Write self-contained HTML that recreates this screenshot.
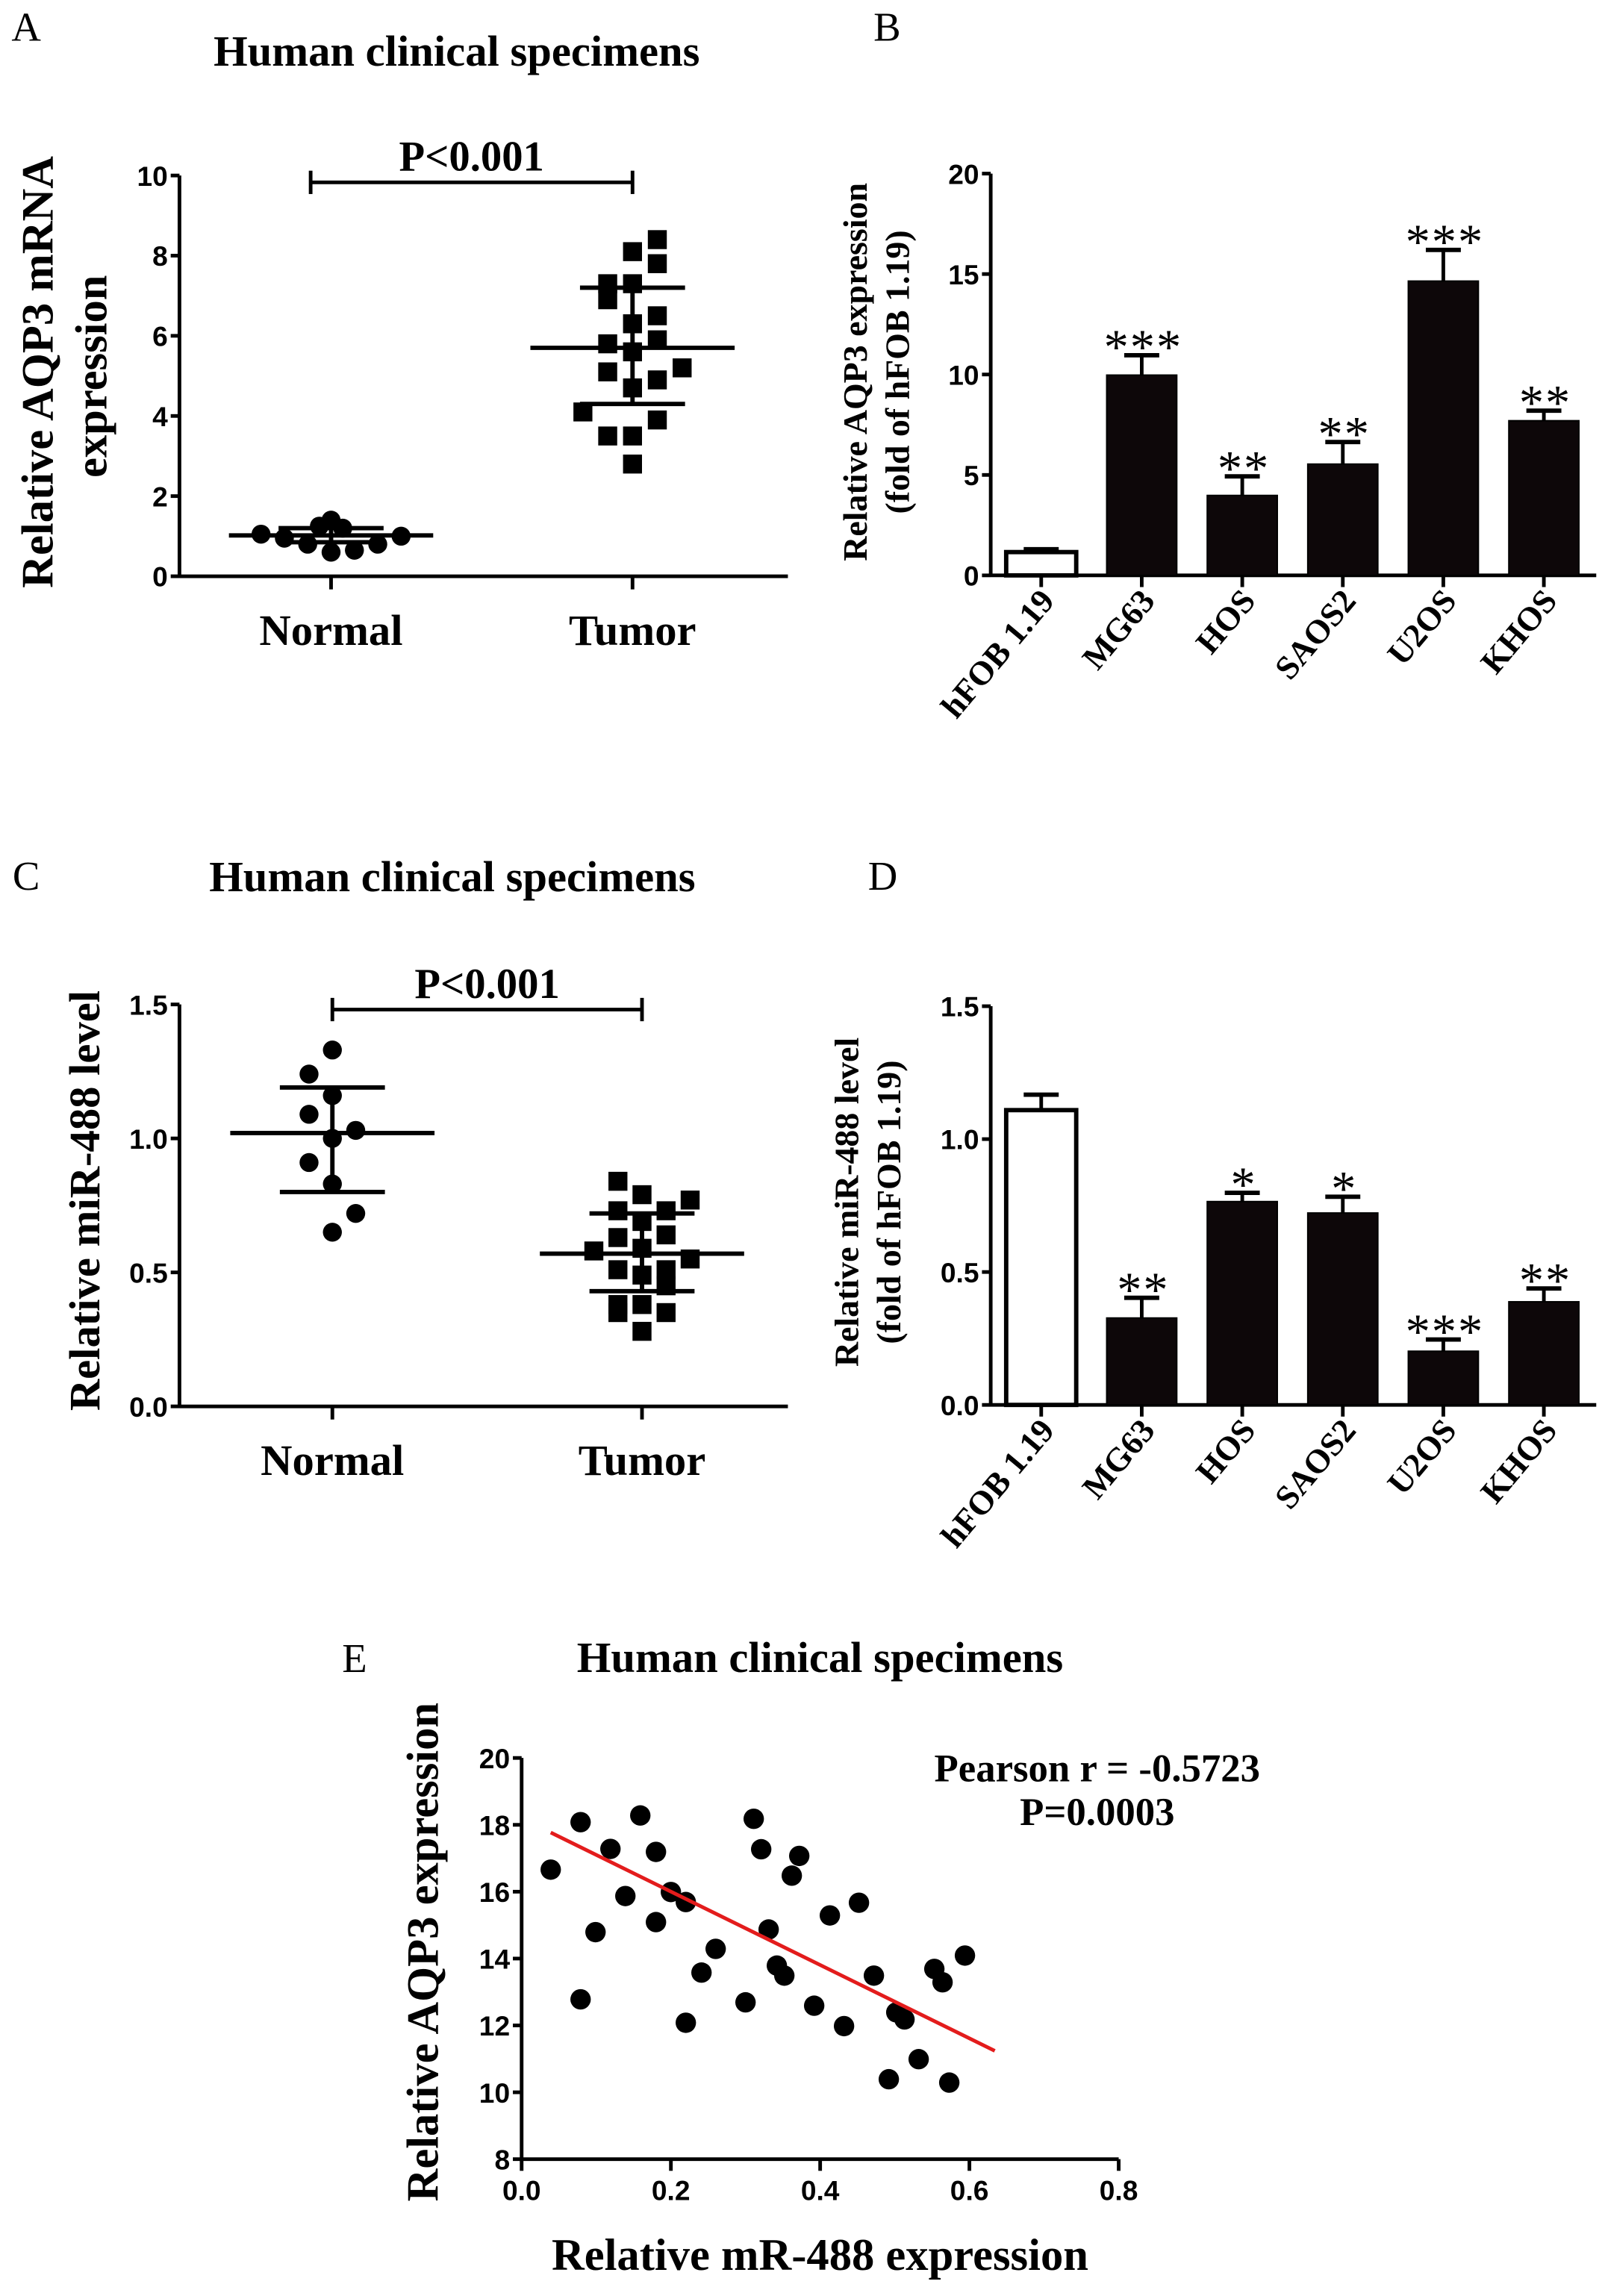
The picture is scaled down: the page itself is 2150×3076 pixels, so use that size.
<!DOCTYPE html>
<html><head><meta charset="utf-8">
<style>
html,body{margin:0;padding:0;background:#fff;}
svg{display:block;}
.ser{font-family:"Liberation Serif",serif;font-weight:bold;fill:#000;}
.serr{font-family:"Liberation Serif",serif;fill:#000;}
.tick{font-family:"Liberation Sans",sans-serif;font-weight:bold;font-size:19px;fill:#000;}
</style></head>
<body>
<svg id="fig" width="2150" height="3076" viewBox="0 0 1100 1573.8" preserveAspectRatio="none" xmlns="http://www.w3.org/2000/svg">
<rect x="0" y="0" width="1100" height="1574" fill="#fff"/>
<g id="root"></g>
</svg>
<script>
// ---- Panel A data ----
const aNormalVals = [1.05,1.0,0.8,1.4,1.25,1.2,0.6,0.65,0.8,0.95];
const aNormalOff = [-3,3,-1,0,-0.5,0.5,0,1,2,-2];
const aNormalStats = [1.02,1.2,0.85];
const aTumorVals = [8.4,8.1,7.8,7.3,7.3,6.9,6.5,6.3,5.8,5.9,5.6,5.2,5.1,4.9,4.7,4.1,3.9,3.5,3.5,2.8];
const aTumorOff = [1,0,1,-1,0,-1,1,0,-1,1,0,2,-1,1,0,-2,1,-1,0,0];
const aTumorStats = [5.7,7.2,4.3];
const aTicks = [0,2,4,6,8,10];
// ---- Panel B data ----
const cellLines = ["hFOB 1.19","MG63","HOS","SAOS2","U2OS","KHOS"];
const bVals = [1.16,9.97,3.98,5.54,14.65,7.7];
const bErr = [0.14,0.99,0.95,1.1,1.55,0.5];
const bStars = ["","***","**","**","***","**"];
const bTicks = [0,5,10,15,20];
// ---- Panel C data ----
const cNormalVals = [1.33,1.24,1.16,1.09,1.03,1.0,0.91,0.83,0.72,0.65];
const cNormalOff = [0,-1,0,-1,1,0,-1,0,1,0];
const cNormalStats = [1.02,1.19,0.8];
const cTumorVals = [0.84,0.79,0.77,0.73,0.73,0.69,0.63,0.64,0.59,0.58,0.55,0.51,0.51,0.49,0.45,0.38,0.38,0.35,0.35,0.28];
const cTumorOff = [-1,0,2,-1,1,0,-1,1,0,-2,2,-1,1,0,1,-1,0,1,-1,0];
const cTumorStats = [0.57,0.72,0.43];
const cTicks = [0.0,0.5,1.0,1.5];
// ---- Panel D data ----
const dVals = [1.109,0.327,0.765,0.722,0.202,0.388];
const dErr = [0.058,0.076,0.033,0.061,0.044,0.05];
const dStars = ["","**","*","*","***","**"];
const dTicks = [0.0,0.5,1.0,1.5];
// ---- Panel E data ----
const eX = [0.039,0.079,0.079,0.099,0.119,0.139,0.159,0.18,0.18,0.2,0.22,0.22,0.241,0.26,0.30,0.311,0.321,0.331,0.342,0.352,0.362,0.372,0.392,0.413,0.432,0.452,0.472,0.492,0.502,0.513,0.532,0.553,0.564,0.573,0.594];
const eY = [16.66,18.08,12.78,14.79,17.28,15.87,18.28,17.19,15.09,15.99,15.69,12.08,13.58,14.29,12.69,18.18,17.27,14.87,13.79,13.49,16.48,17.07,12.59,15.29,11.98,15.67,13.49,10.39,12.39,12.18,10.99,13.69,13.29,10.29,14.09];
const eFitX = [0.039,0.634];
const eFitY = [17.77,11.24];
const eXTicks = [0.0,0.2,0.4,0.6,0.8];
const eYTicks = [8,10,12,14,16,18,20];

const NS="http://www.w3.org/2000/svg";
const root=document.getElementById('root');
function el(tag,attrs,parent,text){const e=document.createElementNS(NS,tag);for(const k in attrs)e.setAttribute(k,attrs[k]);if(text!==undefined)e.textContent=text;(parent||root).appendChild(e);return e;}
function line(x1,y1,x2,y2,w,p,col){return el('line',{x1:x1,y1:y1,x2:x2,y2:y2,stroke:col||'#000','stroke-width':w||2.5},p);}
function lin(d0,d1,r0,r1){return v=>r0+(v-d0)*(r1-r0)/(d1-d0);}
function fmt(v,dec){return dec?v.toFixed(dec):String(v);}

function yAxis(g,x,y,ticks,dec){
  line(x,y(ticks[0])+1,x,y(ticks[ticks.length-1]),2.5,g);
  ticks.forEach(t=>{line(x-6,y(t),x,y(t),2.5,g);
    const tl=el('text',{x:x-8,y:y(t)+7,'text-anchor':'end',class:'tick'},g,fmt(t,dec));
    
    });
}
function text(g,x,y,s,cls,size,anchor,name,rot){
  const t=el('text',{x:x,y:y,class:cls,'font-size':size,'text-anchor':anchor||'middle'},g,s);
  if(rot)t.setAttribute('transform','rotate('+rot+' '+x+' '+y+')');
  
  
  return t;
}

function scatterPanel(o){
  const g=el('g',{});
  
  
  const y=lin(o.ticks[0],o.ticks[o.ticks.length-1],o.y0,o.y1);
  yAxis(g,o.ax,y,o.ticks,o.dec);
  line(o.ax,o.y0,o.axEnd,o.y0,2.5,g);
  [o.cx1,o.cx2].forEach(cx=>line(cx,o.y0,cx,o.y0+9,2.5,g));
  text(g,o.cx1,o.y0+47,'Normal','ser',30,'middle','x-label-normal');
  text(g,o.cx2,o.y0+47,'Tumor','ser',30,'middle','x-label-tumor');
  line(o.cx1-o.bl,o.by,o.cx2,o.by,2.5,g);
  line(o.cx1-o.bl,o.by-8,o.cx1-o.bl,o.by+8,2.5,g);
  line(o.cx2,o.by-8,o.cx2,o.by+8,2.5,g);
  text(g,(o.cx1-o.bl+o.cx2)/2,o.by-8,'P<0.001','ser',29,'middle','p-value-label');
  o.nVals.forEach((v,i)=>{const c=el('circle',{cx:o.cx1+o.nOff[i]*o.dx,cy:y(v),r:6.5,fill:'#000'},g);
    
    });
  o.tVals.forEach((v,i)=>{const s=13;const r=el('rect',{x:o.cx2+o.tOff[i]*o.dx2-s/2,y:y(v)-s/2,width:s,height:s,fill:'#000'},g);
    
    });
  [[o.cx1,o.nStats],[o.cx2,o.tStats]].forEach(([cx,st])=>{
    line(cx-70,y(st[0]),cx+70,y(st[0]),3,g);
    line(cx-36,y(st[1]),cx+36,y(st[1]),3,g);
    line(cx-36,y(st[2]),cx+36,y(st[2]),3,g);
    line(cx,y(st[1]),cx,y(st[2]),3,g);
  });
  return g;
}

function barPanel(o){
  const g=el('g',{});
  
  
  const y=lin(o.ticks[0],o.ticks[o.ticks.length-1],o.y0,o.y1);
  yAxis(g,o.ax,y,o.ticks,o.dec);
  line(o.ax,o.y0,1094,o.y0,2.5,g);
  const bw=48,step=68.9,c0=713.6;
  cellLines.forEach((c,i)=>{
    const cx=c0+i*step;
    const top=y(o.vals[i]);const et=y(o.vals[i]+o.err[i]);
    line(cx,et,cx,top,2.5,g);
    line(cx-12,et,cx+12,et,3,g);
    const b=el('rect',{x:cx-bw/2,y:top,width:bw,height:o.y0-top,fill:i===0?'#fff':'#0d0709',stroke:'#000','stroke-width':i===0?3:1},g);
    
    
    line(cx,o.y0,cx,o.y0+8,2.5,g);
    if(o.stars[i]){const st=text(g,cx+1,et+6,o.stars[i],'serr',34,'middle','significance-stars');st.setAttribute('letter-spacing','1');}
    text(g,cx+10,o.y0+18,c,'ser',23,'end','x-label-'+c.toLowerCase().replace(/[ .]/g,''),-50);
  });
  return g;
}

text(root,18,28,'A','serr',28,'middle','panel-label-a');
text(root,608,28,'B','serr',28,'middle','panel-label-b');
text(root,18,610,'C','serr',28,'middle','panel-label-c');
text(root,605,610,'D','serr',28,'middle','panel-label-d');
text(root,243,1146,'E','serr',28,'middle','panel-label-e');
text(root,313,45,'Human clinical specimens','ser',30,'middle','title-a');
text(root,310,611,'Human clinical specimens','ser',30,'middle','title-c');
text(root,562,1146,'Human clinical specimens','ser',30,'middle','title-e');

scatterPanel({name:'panel-a',ax:123,axEnd:540,y0:395,y1:120.3,ticks:aTicks,dec:0,cx1:226.9,cx2:433.5,bl:14,by:125,
  nVals:aNormalVals,nOff:aNormalOff,dx:16,tVals:aTumorVals,tOff:aTumorOff,dx2:17,nStats:aNormalStats,tStats:aTumorStats});
text(root,36,255,'Relative AQP3 mRNA','ser',31,'middle','y-axis-title-a',-90);
text(root,73,258,'expression','ser',31,'middle','y-axis-title-a-line2',-90);

scatterPanel({name:'panel-c',ax:123,axEnd:540,y0:964,y1:688.5,ticks:cTicks,dec:1,cx1:227.8,cx2:440,bl:0,by:692,
  nVals:cNormalVals,nOff:cNormalOff,dx:16,tVals:cTumorVals,tOff:cTumorOff,dx2:16.5,nStats:cNormalStats,tStats:cTumorStats});
text(root,68,823,'Relative miR-488 level','ser',30,'middle','y-axis-title-c',-90);

barPanel({name:'panel-b',ax:679,y0:394.4,y1:119,ticks:bTicks,dec:0,vals:bVals,err:bErr,stars:bStars});
text(root,594,255,'Relative AQP3 expression','ser',23.5,'middle','y-axis-title-b',-90);
text(root,623,255,'(fold of hFOB 1.19)','ser',23.5,'middle','y-axis-title-b-line2',-90);

barPanel({name:'panel-d',ax:679,y0:963,y1:689.7,ticks:dTicks,dec:1,vals:dVals,err:dErr,stars:dStars});
text(root,588,824,'Relative miR-488 level','ser',23.5,'middle','y-axis-title-d',-90);
text(root,617,824,'(fold of hFOB 1.19)','ser',23.5,'middle','y-axis-title-d-line2',-90);

(function(){
  const g=el('g',{});
  
  
  const x=lin(0,0.8,357.5,766.7);
  const y=lin(8,20,1480,1205);
  yAxis(g,357.5,y,eYTicks,0);
  line(356.3,1480,x(0.8),1480,2.5,g);
  eXTicks.forEach(t=>{line(x(t),1480,x(t),1488,2.5,g);
    const tl=el('text',{x:x(t),y:1508,'text-anchor':'middle',class:'tick'},g,t.toFixed(1));
    
    });
  eX.forEach((v,i)=>{const c=el('circle',{cx:x(v),cy:y(eY[i]),r:7,fill:'#000'},g);
    
    });
  const f=line(x(eFitX[0]),y(eFitY[0]),x(eFitX[1]),y(eFitY[1]),2.5,g,'#e31c1c');
  
  
  text(g,752,1221,'Pearson r = -0.5723','ser',27,'middle','pearson-r-label');
  text(g,752,1251,'P=0.0003','ser',27,'middle','p-value-e');
  text(g,562,1556,'Relative mR-488 expression','ser',31,'middle','x-axis-title-e');
  text(g,300,1338,'Relative AQP3 expression','ser',31,'middle','y-axis-title-e',-90);
})();
</script>
</body></html>
